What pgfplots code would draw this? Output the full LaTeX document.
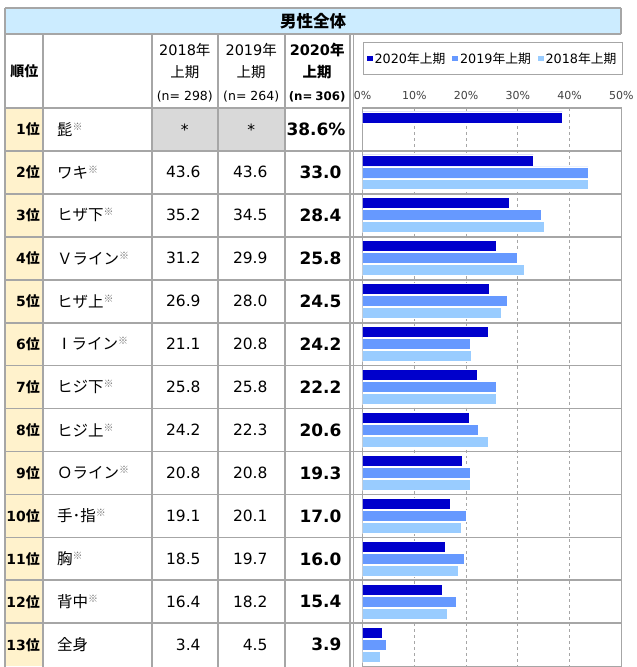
\documentclass[border=0pt]{standalone}
\usepackage{pgfplots}
\usepackage{pgfplotstable}
\pgfplotsset{compat=1.18}
\usepackage{fontspec}
\setmainfont{DejaVu Sans}
\newfontfamily\jp{Noto Sans CJK JP}
\newfontfamily\dv{DejaVu Sans}
\definecolor{c20}{HTML}{0000CC}
\definecolor{c19}{HTML}{6699FF}
\definecolor{c18}{HTML}{99CCFF}
\definecolor{hdr}{HTML}{CCECFF}
\definecolor{cream}{HTML}{FFF2CC}
\definecolor{cellg}{HTML}{D9D9D9}
\definecolor{tl}{HTML}{A6A6A6}
\definecolor{tick}{HTML}{404040}
\newcommand{\fs}[1]{\fontsize{#1}{#1}\selectfont}
\newcommand{\kome}{\raisebox{5pt}{\textcolor{black!55}{\fs{10}\jp ※}}}
\pgfplotstableread{
y v20 v19 v18
1 38.6 nan nan
2 33.0 43.6 43.6
3 28.4 34.5 35.2
4 25.8 29.9 31.2
5 24.5 28.0 26.9
6 24.2 20.8 21.1
7 22.2 25.8 25.8
8 20.6 22.3 24.2
9 19.3 20.8 20.8
10 17.0 20.1 19.1
11 16.0 19.7 18.5
12 15.4 18.2 16.4
13 3.9 4.5 3.4
}\data
\newcommand{\row}[5]{%
  \pgfmathsetmacro\yc{-(86.5+43*#1)}%
  \node[anchor=east,inner sep=0] at (40,\yc) {\fs{14}\bfseries #1{\jp 位}};
  \node[anchor=west,inner sep=0] at (57,\yc) {\fs{15.5}\jp #2};
  \node[anchor=east,inner sep=0] at (201,\yc) {\fs{15.5}#3};
  \node[anchor=east,inner sep=0] at (268,\yc) {\fs{15.5}#4};
  \node[anchor=east,inner sep=0] at (342,\yc) {\fs{17}\bfseries #5};
}
\pgfplotsset{sqleg/.style={legend image code/.code={\fill[##1,draw=none] (0pt,-2.8pt) rectangle (5.6pt,2.8pt);}}}
\begin{document}
\begin{tikzpicture}
\begin{scope}[x=1pt,y=1pt]
\useasboundingbox (0,0) rectangle (635,-667);
\clip (0,0) rectangle (635,-667);
\fill[hdr] (5,-8) rectangle (622,-34);
\fill[cream] (5,-108) rectangle (43,-667);
\fill[cellg] (152,-108) rectangle (285,-150);
\end{scope}
\begin{axis}[
  at={(363pt,-108pt)}, anchor=north west,
  scale only axis, width=259pt, height=559pt,
  xmin=0, xmax=50, ymin=0.5, ymax=13.5, y dir=reverse,
  xtick={0,10,...,50}, ytick=\empty,
  xticklabel pos=upper,
  xticklabel={\pgfmathprintnumber{\tick}\%},
  /pgf/number format/assume math mode=true,
  xticklabel style={font=\fs{11}, text=tick, yshift=5pt},
  major tick length=0pt,
  xmajorgrids, grid style={dashed, tl, line width=0.8pt},
  axis line style={draw=tl, line width=1.5pt},
  legend columns=3, legend cell align=left,
  legend style={at={(0,1.118)}, anchor=north west, draw=tl, line width=0.8pt,
    font=\fs{12.8}, inner xsep=4pt, inner ysep=8pt,
    /tikz/every even column/.append style={column sep=5pt}},
]
\addplot[xbar, bar width=11pt, bar shift=12pt, fill=c20, draw=white, line width=0.6pt, sqleg] table[x=v20,y=y]{\data};
\addplot[xbar, bar width=11pt, bar shift=0pt, fill=c19, draw=white, line width=0.6pt, sqleg] table[x=v19,y=y]{\data};
\addplot[xbar, bar width=11pt, bar shift=-12pt, fill=c18, draw=white, line width=0.6pt, sqleg] table[x=v18,y=y]{\data};
\legend{2020{\jp 年上期}, 2019{\jp 年上期}, 2018{\jp 年上期}}
\end{axis}
\begin{scope}[x=1pt,y=1pt]
\clip (0,0) rectangle (635,-667);
% horizontal lines
\draw[tl, line width=1.8pt] (5,-8) -- (622,-8);
\draw[tl, line width=1.8pt] (5,-34) -- (622,-34);
\draw[tl, line width=1.8pt] (5,-108) -- (350,-108);
\foreach \k in {1,...,12} { \draw[tl, line width=1.8pt] (5,{-108-43*\k}) -- (622,{-108-43*\k}); }
% vertical lines
\draw[tl, line width=1.8pt] (5,-8) -- (5,-670);
\draw[tl, line width=1.8pt] (622,-8) -- (622,-34);
\foreach \xx in {43,152,218,285} { \draw[tl, line width=1.8pt] (\xx,-34) -- (\xx,-670); }
\draw[tl, line width=1.8pt] (350,-34) -- (350,-670);
\draw[tl, line width=1pt] (354,-34) -- (354,-670);
% headers
\node at (313.5,-21) {\fs{16.5}\jp\bfseries 男性全体};
\node at (24.5,-71) {\fs{14}\jp\bfseries 順位};
\node at (185,-50) {\fs{14.5}2018{\jp 年}};
\node at (185,-72) {\fs{14.5}\jp 上期};
\node at (185,-97) {\fs{12.5}(n=\hspace{4pt}298)};
\node at (251.5,-50) {\fs{14.5}2019{\jp 年}};
\node at (251.5,-72) {\fs{14.5}\jp 上期};
\node at (251.5,-97) {\fs{12.5}(n=\hspace{4pt}264)};
\node at (317.5,-50) {\fs{14.5}\bfseries 2020{\jp 年}};
\node at (317.5,-72) {\fs{14.5}\bfseries\jp 上期};
\node at (317.5,-97) {\fs{11.8}\bfseries (n=\hspace{3pt}306)};
% rows
\node[anchor=east,inner sep=0] at (40,-129.5) {\fs{14}\bfseries 1{\jp 位}};
\node[anchor=west,inner sep=0] at (57,-129.5) {\fs{15.5}\jp 髭\kome};
\node at (185,-129.5) {\fs{15.5}*};
\node at (251.5,-129.5) {\fs{15.5}*};
\node[anchor=east,inner sep=0] at (346,-129.5) {\fs{17}\bfseries 38.6\%};
\row{2}{ワキ\kome}{43.6}{43.6}{33.0}
\row{3}{ヒザ下\kome}{35.2}{34.5}{28.4}
\row{4}{Ｖライン\kome}{31.2}{29.9}{25.8}
\row{5}{ヒザ上\kome}{26.9}{28.0}{24.5}
\row{6}{{\dv\hspace{5pt}I\hspace{5pt}}ライン\kome}{21.1}{20.8}{24.2}
\row{7}{ヒジ下\kome}{25.8}{25.8}{22.2}
\row{8}{ヒジ上\kome}{24.2}{22.3}{20.6}
\row{9}{Ｏライン\kome}{20.8}{20.8}{19.3}
\row{10}{手･指\kome}{19.1}{20.1}{17.0}
\row{11}{胸\kome}{18.5}{19.7}{16.0}
\row{12}{背中\kome}{16.4}{18.2}{15.4}
\row{13}{全身}{3.4}{4.5}{3.9}
\end{scope}
\end{tikzpicture}
\end{document}
